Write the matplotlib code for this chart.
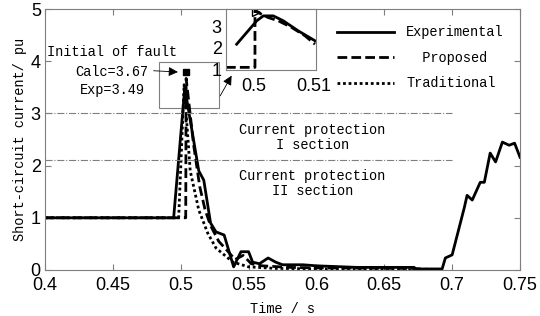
import numpy as np
import matplotlib.pyplot as plt
from matplotlib.patches import Rectangle

# Experimental curve (solid)
t_exp = [0.4, 0.4948, 0.5030, 0.5133, 0.517, 0.522, 0.526, 0.532, 0.539, 0.5444,
         0.55, 0.553, 0.558, 0.5644, 0.57, 0.575, 0.59, 0.60, 0.63, 0.672, 0.673,
         0.6926, 0.695, 0.70, 0.709, 0.711, 0.7148, 0.7207, 0.7237, 0.728, 0.732,
         0.737, 0.742, 0.746, 0.75]
i_exp = [1.0, 1.0, 3.49, 1.9, 1.72, 0.9, 0.73, 0.67, 0.06, 0.35,
         0.35, 0.15, 0.12, 0.23, 0.15, 0.10, 0.10, 0.08, 0.05, 0.05, 0.02,
         0.02, 0.23, 0.29, 1.2, 1.43, 1.34, 1.68, 1.68, 2.24, 2.07,
         2.45, 2.39, 2.43, 2.16]

# Proposed curve (dashed)
t_pro = [0.4, 0.5037, 0.504, 0.5095, 0.514, 0.518, 0.522, 0.528, 0.535, 0.54,
         0.546, 0.552, 0.56, 0.58, 0.60, 0.67, 0.69]
i_pro = [1.0, 1.0, 3.67, 2.4, 1.6, 1.15, 0.85, 0.55, 0.35, 0.2,
         0.28, 0.12, 0.08, 0.05, 0.04, 0.03, 0.0]

# Traditional curve (dotted)
t_tra = [0.4, 0.4985, 0.5025, 0.507, 0.5133, 0.52, 0.526, 0.5385, 0.55, 0.57, 0.69]
i_tra = [1.0, 1.0, 3.55, 1.9, 1.15, 0.7, 0.42, 0.15, 0.06, 0.03, 0.0]

# zoomed inset curves
t_in_exp = [0.49708, 0.50042, 0.50152, 0.50318, 0.50485, 0.50735, 0.51013]
i_in_exp = [2.16, 3.25, 3.48, 3.48, 3.25, 2.78, 2.32]
t_in_pro = [0.4953, 0.50013, 0.50013, 0.50235, 0.50402, 0.50625, 0.50847, 0.51013]
i_in_pro = [1.08, 1.08, 3.71, 3.4, 3.25, 2.94, 2.55, 2.16]

labels = ['Experimental', '  Proposed', 'Traditional']
serif = 'Liberation Mono'
sans = 'Liberation Sans'
grey = '#7f7f7f'
fs = 9.8
tfs = 13

fig = plt.figure(figsize=(5.4, 3.16), dpi=100)
ax = fig.add_axes([0.0833, 0.1456, 0.8797, 0.8259])

ax.plot(t_exp, i_exp, 'k-', lw=2, label=labels[0])
ax.plot(t_pro, i_pro, 'k--', lw=2, dashes=(3.5, 1.5), label=labels[1])
ax.plot(t_tra, i_tra, 'k:', lw=2, dashes=(1, 1), label=labels[2])

# protection thresholds
ax.hlines([3.0, 2.1], 0.4, 0.7, colors=grey, linestyles='-.', lw=0.8)
ax.text(0.597, 2.54, 'Current protection\nI section', ha='center', va='center',
        family=serif, fontsize=fs, linespacing=1.15)
ax.text(0.597, 1.66, 'Current protection\nII section', ha='center', va='center',
        family=serif, fontsize=fs, linespacing=1.15)

# fault initiation notes
ax.text(0.4496, 4.17, 'Initial of fault', ha='center', va='center', family=serif, fontsize=fs)
ax.text(0.4496, 3.80, 'Calc=3.67', ha='center', va='center', family=serif, fontsize=fs)
ax.text(0.4496, 3.44, 'Exp=3.49', ha='center', va='center', family=serif, fontsize=fs)
ax.plot([0.5037], [3.79], 'ks', ms=5)
ax.annotate('', xy=(0.5, 3.79), xytext=(0.478, 3.82),
            arrowprops=dict(arrowstyle='-|>', color='k', lw=0.6, mutation_scale=14))
ax.add_patch(Rectangle((0.4837, 3.1), 0.0443, 0.88, fill=False, ec=grey, lw=0.8))
ax.annotate('', xy=(0.5385, 3.77), xytext=(0.5281, 3.29), annotation_clip=False,
            arrowprops=dict(arrowstyle='-|>', color='k', lw=0.6, mutation_scale=14))

ax.set_xlim(0.4, 0.75)
ax.set_ylim(0, 5)
ax.set_xticks([0.4, 0.45, 0.5, 0.55, 0.6, 0.65, 0.7, 0.75])
ax.set_xticklabels(['0.4', '0.45', '0.5', '0.55', '0.6', '0.65', '0.7', '0.75'])
ax.set_yticks([0, 1, 2, 3, 4, 5])
ax.tick_params(direction='in', top=True, right=True, color=grey, length=4,
               labelsize=tfs, pad=3)
ax.tick_params(axis='x', pad=5)
for lab in ax.get_xticklabels() + ax.get_yticklabels():
    lab.set_family(sans)
for s in ax.spines.values():
    s.set_color(grey)
ax.set_xlabel('Time / s', family=serif, fontsize=fs, labelpad=6)
ax.set_ylabel('Short-circuit current/ pu', family=serif, fontsize=fs, labelpad=3)

leg = ax.legend(loc='upper right', frameon=False, prop=dict(family=serif, size=fs),
                handlelength=4.2, handletextpad=0.9, labelspacing=0.85,
                borderaxespad=0.8)

# inset
axi = fig.add_axes([0.4185, 0.778, 0.1667, 0.1935])
axi.plot(t_in_exp, i_in_exp, 'k-', lw=2)
axi.plot(t_in_pro, i_in_pro, 'k--', lw=2, dashes=(3.5, 1.5))
axi.plot([0.5003], [3.68], marker='>', mfc='none', mec='k', ms=6, ls='none')
axi.set_xlim(0.4953, 0.5103)
axi.set_ylim(0.95, 3.8)
axi.set_xticks([0.5, 0.51])
axi.set_xticklabels(['0.5', '0.51'])
axi.set_yticks([1, 2, 3])
axi.tick_params(length=0, labelsize=tfs, pad=3)
axi.tick_params(axis='x', pad=6)
for lab in axi.get_xticklabels() + axi.get_yticklabels():
    lab.set_family(sans)
for s in axi.spines.values():
    s.set_color(grey)

fig.savefig('out.png', dpi=100)
